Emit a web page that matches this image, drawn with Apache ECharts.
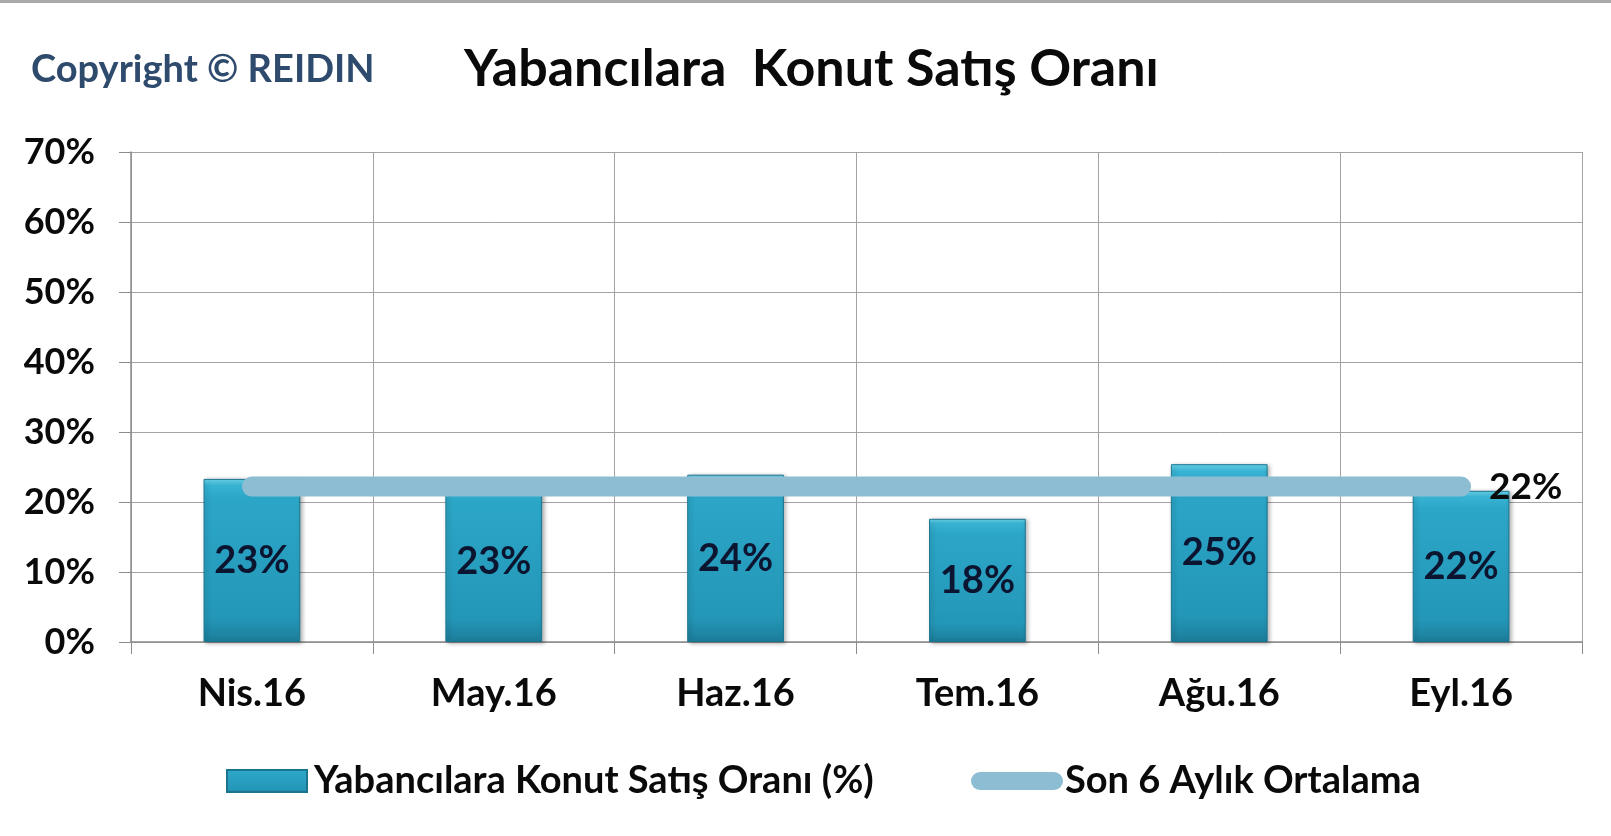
<!DOCTYPE html>
<html>
<head>
<meta charset="utf-8">
<script src="https://cdn.jsdelivr.net/npm/echarts@6/dist/echarts.min.js"></script>
<style>
html,body{margin:0;padding:0;background:#fff;}
#chart{width:1611px;height:836px;}
</style>
</head>
<body>
<div id="chart"></div>
<script>
const categories = ['Nis.16', 'May.16', 'Haz.16', 'Tem.16', 'Ağu.16', 'Eyl.16'];
const saleRates = [23.3, 22.8, 23.9, 17.6, 25.4, 21.6];
const sixMonthAvg = [22.2, 22.2, 22.2, 22.2, 22.2, 22.2];
const yTicks = { min: 0, max: 70, interval: 10 };
const titleText = 'Yabancılara  Konut Satış Oranı';
const copyrightText = 'Copyright © REIDIN';
const barName = 'Yabancılara Konut Satış Oranı (%)';
const lineName = 'Son 6 Aylık Ortalama';

const FONT = 'Lato, "Open Sans", sans-serif';
const chart = echarts.init(document.getElementById('chart'), null, { renderer: 'canvas' });

const barGradient = new echarts.graphic.LinearGradient(0, 0, 0, 1, [
  { offset: 0, color: '#6edcf2' },
  { offset: 0.04, color: '#38b3d3' },
  { offset: 0.12, color: '#2ca6c7' },
  { offset: 0.85, color: '#2497b8' },
  { offset: 1, color: '#1c7d9a' }
]);

chart.setOption({
  backgroundColor: '#ffffff',
  animation: false,
  graphic: [
    { type: 'rect', left: 0, top: 0, shape: { width: 1611, height: 3 }, style: { fill: '#a9a9a9' } },
    { type: 'text', left: 31, top: 51, style: { text: copyrightText, font: 'bold 38px ' + FONT, fill: '#2e4a6c' } },
    { type: 'text', left: 464, top: 43, style: { text: titleText, font: 'bold 52px ' + FONT, fill: '#0a0a0a' } }
  ],
  grid: { left: 131, right: 29, top: 152, bottom: 194, containLabel: false },
  legend: [
    {
      data: [{ name: barName, icon: 'rect' }],
      left: 221, top: 757,
      itemWidth: 80, itemHeight: 22, itemGap: 0,
      textStyle: { fontFamily: FONT, fontWeight: 'bold', fontSize: 38, color: '#0a0a0a', padding: [0, 0, 0, 2] }
    },
    {
      data: [{ name: lineName, icon: 'path://M9,0 H83 A9,9 0 0 1 83,18 H9 A9,9 0 0 1 9,0 Z' }],
      left: 966, top: 757,
      itemWidth: 92, itemHeight: 18, itemGap: 0,
      textStyle: { fontFamily: FONT, fontWeight: 'bold', fontSize: 38, color: '#0a0a0a', padding: [0, 0, 0, -3] }
    }
  ],
  xAxis: {
    type: 'category',
    data: categories,
    boundaryGap: true,
    axisLine: { show: true, lineStyle: { color: '#8c8c8c', width: 1.5 } },
    axisTick: { show: true, length: 12, lineStyle: { color: '#8c8c8c' } },
    splitLine: { show: true, lineStyle: { color: '#a3a3a3', width: 1 } },
    axisLabel: { margin: 33, fontFamily: FONT, fontWeight: 'bold', fontSize: 38, color: '#0a0a0a' }
  },
  yAxis: {
    type: 'value',
    min: yTicks.min, max: yTicks.max, interval: yTicks.interval,
    axisLine: { show: true, lineStyle: { color: '#8c8c8c', width: 1.5 } },
    axisTick: { show: true, length: 12, lineStyle: { color: '#8c8c8c' } },
    splitLine: { show: true, lineStyle: { color: '#a3a3a3', width: 1 } },
    axisLabel: { margin: 36, formatter: '{value}%', fontFamily: FONT, fontWeight: 'bold', fontSize: 36, color: '#0a0a0a' }
  },
  series: [
    {
      name: barName,
      type: 'bar',
      data: saleRates,
      barCategoryGap: '60%',
      z: 2,
      itemStyle: {
        color: barGradient,
        borderColor: '#1b7590', borderWidth: 1,
        shadowBlur: 4, shadowColor: 'rgba(0,0,0,0.3)', shadowOffsetX: 2, shadowOffsetY: 1
      },
      label: {
        show: true, position: 'inside',
        formatter: p => Math.round(p.value) + '%',
        fontFamily: FONT, fontWeight: 'bold', fontSize: 38, color: '#0b1530'
      }
    },
    {
      name: lineName,
      type: 'line',
      data: sixMonthAvg,
      z: 5,
      symbol: 'none',
      itemStyle: { color: '#8dbdd2' },
      lineStyle: { color: '#8dbdd2', width: 20, cap: 'round' },
      endLabel: {
        show: true, distance: 28,
        formatter: p => Math.round(p.value) + '%',
        fontFamily: FONT, fontWeight: 'bold', fontSize: 37, color: '#0a0a0a'
      }
    }
  ]
});
</script>
</body>
</html>
